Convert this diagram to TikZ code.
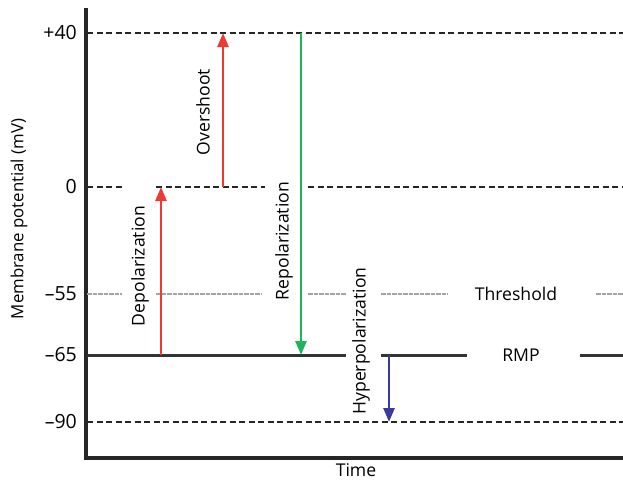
\documentclass[tikz,border=0pt]{standalone}
\usepackage{fontspec}
\setmainfont{Open Sans}
\usetikzlibrary{arrows.meta}
\definecolor{uparrow}{HTML}{EE3B32}
\definecolor{downarrow}{HTML}{1DB45A}
\definecolor{hyperarrow}{HTML}{3A3A9C}
\definecolor{rmpline}{HTML}{333333}
\definecolor{threshline}{HTML}{A4A4A4}
\begin{document}
\begin{tikzpicture}[x=1pt,y=-1pt,
  lbl/.style={font=\fontsize{17.6}{20}\selectfont, inner sep=0pt},
  ticklbl/.style={font=\fontsize{19.5}{21}\selectfont, inner sep=0pt, anchor=east},
  vlbl/.style={lbl, rotate=90},
  axisline/.style={line width=3.2pt, black!85},
  levelline/.style={line width=2.8pt, black!85, dash pattern=on 6pt off 3.5pt},
  thresh/.style={line width=2.4pt, threshline, dash pattern=on 4.5pt off 1pt},
  rmp/.style={line width=3pt, rmpline},
  arr/.style={line width=2.6pt, -{Triangle[length=14pt,width=11pt]}}]
\useasboundingbox (0,0) rectangle (623,482);

% axes
\coordinate (ytop) at (86,8);
\coordinate (origin) at (86,458);
\coordinate (xend) at (623,458);
\draw[axisline] (ytop) -- (origin) -- (xend);

% tick labels
\node[ticklbl] (l40) at (77,33) {+40};
\node[ticklbl] (l0)  at (77,187) {0};
\node[ticklbl] (l55) at (77,294) {–55};
\node[ticklbl] (l65) at (77,355) {–65};
\node[ticklbl] (l90) at (77,422) {–90};

% axis titles
\node[vlbl, font=\fontsize{16.8}{19}\selectfont] (ytitle) at (19,219) {Membrane potential (mV)};
\node[lbl] (xtitle) at (356,470) {Time};

% +40 and -90 levels
\draw[levelline] (87,33) -- (623,33);
\draw[levelline] (87,422) -- (623,422);

% 0 mV level, broken round the labels
\draw[levelline] (87,187) -- (123,187);
\draw[levelline] (156,187) -- (265,187);
\draw[levelline] (308,187) -- (623,187);

% threshold
\draw[thresh] (87,294) -- (122,294);
\draw[thresh] (156,294) -- (262,294);
\draw[thresh] (308,294) -- (346,294);
\draw[thresh] (381,294) -- (448,294);
\node[lbl] (thr) at (516,294) {Threshold};
\draw[thresh] (596,294) -- (623,294);

% resting membrane potential
\draw[rmp] (87,355) -- (346,355);
\draw[rmp] (381,355) -- (467,355);
\node[lbl] (rmplbl) at (521,355) {RMP};
\draw[rmp] (580,355) -- (623,355);

% arrow end points
\coordinate (depA) at (161,355);
\coordinate (depB) at (161,187);
\coordinate (ovA) at (223,187);
\coordinate (ovB) at (223,33);
\coordinate (repA) at (301,33);
\coordinate (repB) at (301,355);
\coordinate (hypA) at (389,355);
\coordinate (hypB) at (389,422);

\draw[arr, uparrow] (depA) -- (depB);
\draw[arr, uparrow] (ovA) -- (ovB);
\draw[arr, downarrow] (repA) -- (repB);
\draw[arr, hyperarrow] (hypA) -- (hypB);

% arrow labels
\node[vlbl] (deplbl) at (140,266) {Depolarization};
\node[vlbl] (ovlbl) at (203,112) {Overshoot};
\node[vlbl] (replbl) at (284,241) {Repolarization};
\node[vlbl] (hyplbl) at (361,341) {Hyperpolarization};
\end{tikzpicture}
\end{document}
